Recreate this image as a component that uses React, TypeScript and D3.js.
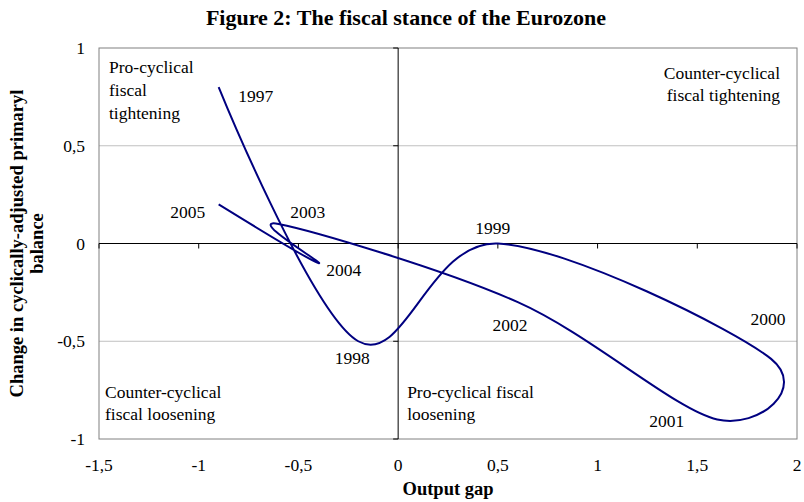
import React from "react";
import * as d3 from "d3";

const years = ["1997", "1998", "1999", "2000", "2001", "2002", "2003", "2004", "2005"];
const outputGap = [-0.9, -0.2, 0.5, 1.87, 1.6, 0.6, -0.6, -0.4, -0.9];
const balanceChange = [0.8, -0.5, 0.0, -0.59, -0.9, -0.3, 0.1, -0.1, 0.2];
const xTicks = [-1.5, -1, -0.5, 0, 0.5, 1, 1.5, 2];
const yTicks = [-1, -0.5, 0, 0.5, 1];

// label placement relative to each point (px offset, text anchor)
const labelPlacement: [number, number, string][] = [
  [19.5, 15, "start"],
  [-6, 23, "middle"],
  [-5, -9.5, "middle"],
  [-3, -34, "middle"],
  [-50.6, 7.5, "middle"],
  [-7.7, 29, "middle"],
  [11.7, -6, "start"],
  [7.8, 13, "start"],
  [-13.5, 13.6, "end"],
];

const W = 804;
const H = 502;
const M = { left: 99, right: 797, top: 48, bottom: 439 };
const FONT = "'Liberation Serif', 'Times New Roman', serif";

const fmt = (v: number) => String(v).replace(".", ",");

export default function App() {
  const x = d3.scaleLinear().domain([-1.5, 2]).range([M.left, M.right]);
  const y = d3.scaleLinear().domain([-1, 1]).range([M.bottom, M.top]);
  const pts: [number, number][] = outputGap.map((g, i) => [g, balanceChange[i]]);
  const line = d3
    .line<[number, number]>()
    .x((d) => x(d[0]))
    .y((d) => y(d[1]))
    .curve(d3.curveCatmullRom.alpha(0));

  const x0 = x(0);
  const y0 = y(0);

  return (
    <div style={{ position: "absolute", left: 0, top: 0 }}>
      <svg width={W} height={H} style={{ display: "block", fontFamily: FONT }}>
        <rect x={0} y={0} width={W} height={H} fill="#fff" />
        <text x={406} y={25} textAnchor="middle" fontSize={22} fontWeight="bold">
          Figure 2: The fiscal stance of the Eurozone
        </text>
        {/* gridlines */}
        {yTicks
          .filter((t) => t !== 0 && t !== 1 && t !== -1)
          .map((t) => (
            <line key={"g" + t} x1={M.left} x2={M.right} y1={y(t)} y2={y(t)} stroke="#c0c0c0" strokeWidth={1} />
          ))}
        {/* border */}
        <rect x={M.left} y={M.top} width={M.right - M.left} height={M.bottom - M.top} fill="none" stroke="#808080" strokeWidth={1} />
        {/* axes through zero */}
        <line x1={M.left} x2={M.right} y1={y0} y2={y0} stroke="#000" strokeWidth={1} />
        <line x1={x0} x2={x0} y1={M.top} y2={M.bottom} stroke="#000" strokeWidth={1} />
        {xTicks.map((t) => (
          <line key={"xt" + t} x1={x(t)} x2={x(t)} y1={y0} y2={y0 + 5} stroke="#000" />
        ))}
        {yTicks.map((t) => (
          <line key={"yt" + t} x1={x0 - 5} x2={x0} y1={y(t)} y2={y(t)} stroke="#000" />
        ))}
        {/* tick labels */}
        {xTicks.map((t) => (
          <text key={"xl" + t} x={x(t)} y={471} textAnchor="middle" fontSize={17.5}>
            {fmt(t)}
          </text>
        ))}
        {yTicks.map((t) => (
          <text key={"yl" + t} x={85} y={y(t) + 6} textAnchor="end" fontSize={17.5}>
            {fmt(t)}
          </text>
        ))}
        {/* axis titles */}
        <text x={448} y={495} textAnchor="middle" fontSize={18.5} fontWeight="bold">
          Output gap
        </text>
        <g transform={`translate(23, ${(M.top + M.bottom) / 2}) rotate(-90)`}>
          <text x={0} y={0} textAnchor="middle" fontSize={18.5} fontWeight="bold">
            Change in cyclically-adjusted primaryl
          </text>
          <text x={0} y={20} textAnchor="middle" fontSize={18.5} fontWeight="bold">
            balance
          </text>
        </g>
        {/* quadrant labels */}
        <g fontSize={17.5}>
          <text x={M.left + 10} y={M.top + 25}>Pro-cyclical</text>
          <text x={M.left + 10} y={M.top + 48}>fiscal</text>
          <text x={M.left + 10} y={M.top + 71}>tightening</text>
          <text x={M.right - 17} y={M.top + 31} textAnchor="end">Counter-cyclical</text>
          <text x={M.right - 17} y={M.top + 53} textAnchor="end">fiscal tightening</text>
          <text x={M.left + 6} y={M.bottom - 41}>Counter-cyclical</text>
          <text x={M.left + 6} y={M.bottom - 19}>fiscal loosening</text>
          <text x={x0 + 9} y={M.bottom - 41}>Pro-cyclical fiscal</text>
          <text x={x0 + 9} y={M.bottom - 19}>loosening</text>
        </g>
        {/* curve */}
        <path d={line(pts) || ""} fill="none" stroke="#000080" strokeWidth={2} strokeLinejoin="round" />
        {/* year labels */}
        {pts.map((p, i) => (
          <text
            key={years[i]}
            x={x(p[0]) + labelPlacement[i][0]}
            y={y(p[1]) + labelPlacement[i][1]}
            textAnchor={labelPlacement[i][2] as any}
            fontSize={17.5}
          >
            {years[i]}
          </text>
        ))}
      </svg>
    </div>
  );
}
